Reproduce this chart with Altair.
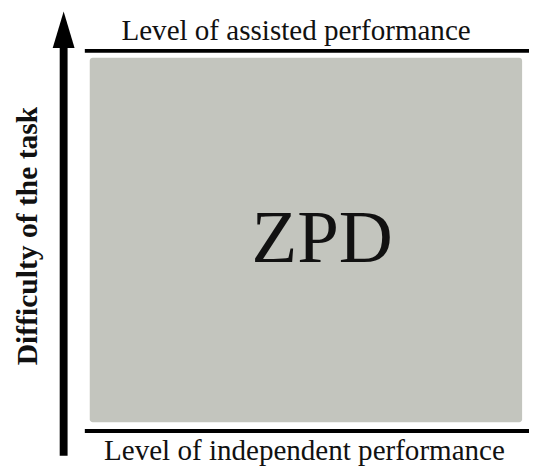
import altair as alt
import pandas as pd

# Diagram content
zone_label = ["ZPD"]
level_labels = ["Level of assisted performance", "Level of independent performance"]
axis_label = ["Difficulty of the task"]

# Layout (page pixel coordinates)
X_DOM = [8, 537]
Y_DOM = [8, 469]
W = X_DOM[1] - X_DOM[0]
H = Y_DOM[1] - Y_DOM[0]

xs = alt.Scale(domain=X_DOM, range=[0, W])
ys = alt.Scale(domain=Y_DOM, range=[0, H])

def X(field):
    return alt.X(field, type="quantitative", scale=xs, axis=None)

def Y(field):
    return alt.Y(field, type="quantitative", scale=ys, axis=None)

rect_df = pd.DataFrame({"x": [91], "x2": [530], "y": [55], "y2": [425]})
rect = alt.Chart(rect_df).mark_rect(color="#c3c5be", cornerRadius=3).encode(
    x=X("x"), x2="x2", y=Y("y"), y2="y2")

lines_df = pd.DataFrame({"x": [86, 86], "x2": [540, 540], "y": [48, 434]})
lines = alt.Chart(lines_df).mark_rule(color="black", strokeWidth=4).encode(
    x=X("x"), x2="x2", y=Y("y"))

shaft_df = pd.DataFrame({"x": [64.5], "y": [40], "y2": [459]})
shaft = alt.Chart(shaft_df).mark_rule(color="black", strokeWidth=8).encode(
    x=X("x"), y=Y("y"), y2="y2")

head_df = pd.DataFrame({"x": [64.5], "y": [26.5]})
head = alt.Chart(head_df).mark_point(
    shape="M0,-1L0.6,1L-0.6,1Z", filled=True, color="black", opacity=1, size=37 * 37
).encode(x=X("x"), y=Y("y"))

top_df = pd.DataFrame({"t": [level_labels[0]], "x": [300.5], "y": [37]})
top_txt = alt.Chart(top_df).mark_text(
    font="Liberation Serif", fontSize=29.5, baseline="alphabetic", align="center", color="#111"
).encode(x=X("x"), y=Y("y"), text="t")

bot_df = pd.DataFrame({"t": [level_labels[1]], "x": [309], "y": [463]})
bot_txt = alt.Chart(bot_df).mark_text(
    font="Liberation Serif", fontSize=29.5, baseline="alphabetic", align="center", color="#111"
).encode(x=X("x"), y=Y("y"), text="t")

zpd_df = pd.DataFrame({"t": zone_label, "x": [327], "y": [262]})
zpd_txt = alt.Chart(zpd_df).mark_text(
    font="Liberation Serif", fontSize=76, baseline="alphabetic", align="center", color="#111"
).encode(x=X("x"), y=Y("y"), text="t")

ylab_df = pd.DataFrame({"t": axis_label, "x": [28], "y": [236]})
ylab = alt.Chart(ylab_df).mark_text(
    font="Liberation Serif", fontSize=30, fontWeight="bold", angle=270,
    baseline="middle", align="center", color="#111"
).encode(x=X("x"), y=Y("y"), text="t")

chart = alt.layer(rect, lines, shaft, head, top_txt, bot_txt, zpd_txt, ylab).properties(
    width=W, height=H, autosize=alt.AutoSizeParams(type="none"), padding=0
).configure(background="white", view=alt.ViewConfig(stroke=None))

chart.save("out.html", embed_options={"renderer": "svg", "actions": False})
